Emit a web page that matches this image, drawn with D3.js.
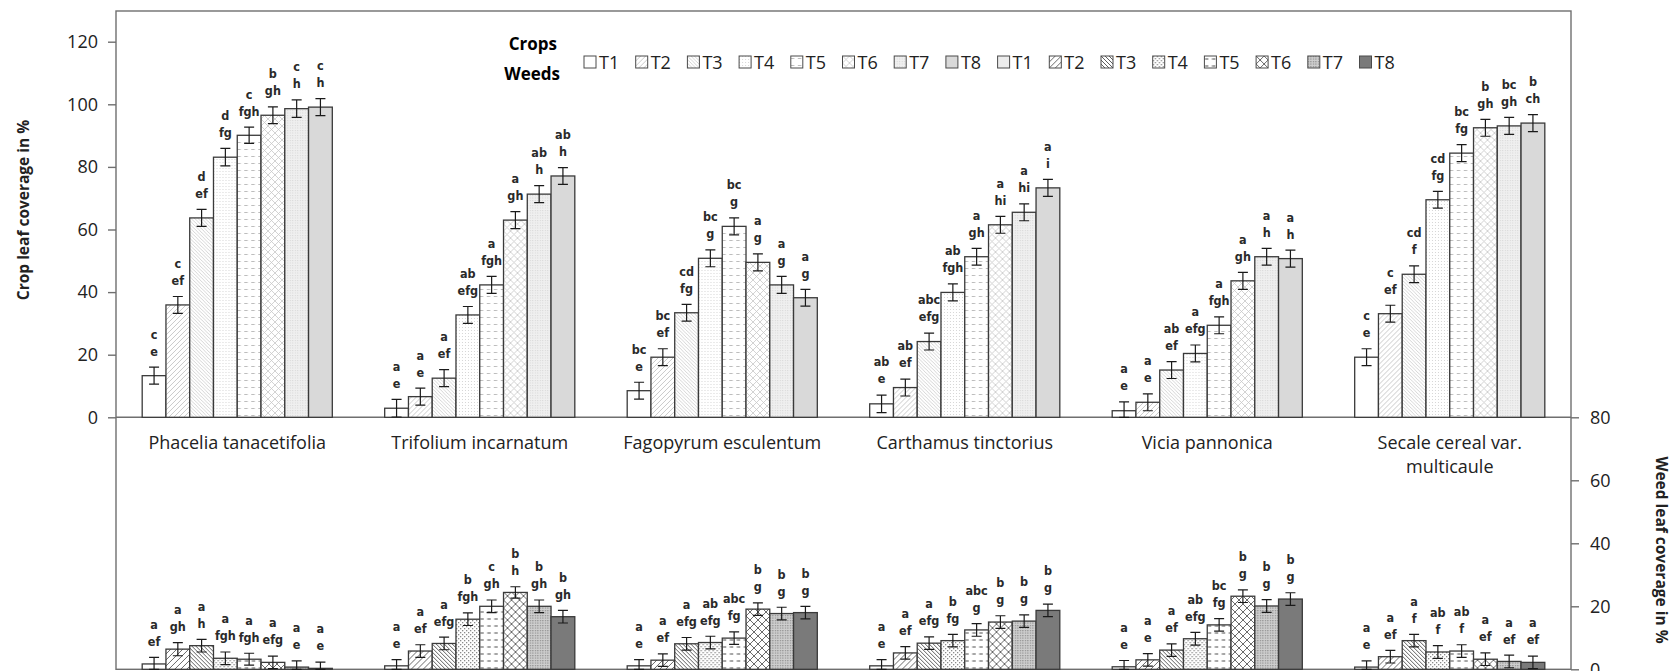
<!DOCTYPE html>
<html>
<head>
<meta charset="utf-8">
<script src="https://cdn.jsdelivr.net/npm/d3@7"></script>
<style>
  body { margin: 0; background: white; }
  svg { display: block; }
</style>
</head>
<body>
<script>
//chart data
const categories = ["Phacelia tanacetifolia", "Trifolium incarnatum", "Fagopyrum esculentum",
    "Carthamus tinctorius", "Vicia pannonica", "Secale cereal var. multicaule"];
const categoryLines = [["Phacelia tanacetifolia"], ["Trifolium incarnatum"], ["Fagopyrum esculentum"],
    ["Carthamus tinctorius"], ["Vicia pannonica"], ["Secale cereal var.", "multicaule"]];
const treatments = ["T1", "T2", "T3", "T4", "T5", "T6", "T7", "T8"];

const cropTicks = [0, 20, 40, 60, 80, 100, 120];
const weedTicks = [0, 20, 40, 60, 80];

//crop leaf coverage (%) per category, T1..T8
const cropMean = [
    [13.3, 35.9, 63.7, 83.1, 90.1, 96.5, 98.6, 99.1],
    [2.9, 6.6, 12.5, 32.7, 42.3, 63.0, 71.3, 77.1],
    [8.5, 19.2, 33.4, 50.8, 61.0, 49.5, 42.3, 38.2],
    [4.3, 9.5, 24.2, 39.9, 51.3, 61.5, 65.5, 73.3],
    [2.1, 4.8, 15.1, 20.4, 29.4, 43.6, 51.3, 50.7],
    [19.2, 33.1, 45.7, 69.5, 84.4, 92.5, 93.1, 94.0]
];
const cropErr = [
    [2.7, 2.7, 2.7, 2.8, 2.6, 2.7, 2.8, 2.7],
    [2.8, 2.7, 2.7, 2.7, 2.7, 2.7, 2.7, 2.7],
    [2.7, 2.7, 2.7, 2.7, 2.7, 2.7, 2.7, 2.7],
    [2.8, 2.7, 2.7, 2.7, 2.7, 2.7, 2.7, 2.7],
    [2.8, 2.7, 2.7, 2.7, 2.7, 2.7, 2.7, 2.7],
    [2.7, 2.7, 2.7, 2.7, 2.7, 2.7, 2.7, 2.7]
];
const cropLetters = [
    ["c/e", "c/ef", "d/ef", "d/fg", "c/fgh", "b/gh", "c/h", "c/h"],
    ["a/e", "a/e", "a/ef", "ab/efg", "a/fgh", "a/gh", "ab/h", "ab/h"],
    ["bc/e", "bc/ef", "cd/fg", "bc/g", "bc/g", "a/g", "a/g", "a/g"],
    ["ab/e", "ab/ef", "abc/efg", "ab/fgh", "a/gh", "a/hi", "a/hi", "a/i"],
    ["a/e", "a/e", "ab/ef", "a/efg", "a/fgh", "a/gh", "a/h", "a/h"],
    ["c/e", "c/ef", "cd/f", "cd/fg", "bc/fg", "b/gh", "bc/gh", "b/ch"]
];

//weed leaf coverage (%) per category, T1..T8
const weedMean = [
    [1.7, 6.4, 7.5, 3.5, 3.2, 2.2, 0.7, 0.3],
    [1.1, 5.8, 8.2, 15.9, 20.0, 24.4, 20.0, 16.7],
    [1.1, 2.9, 8.1, 8.5, 9.9, 19.1, 17.7, 18.0],
    [1.1, 5.2, 8.3, 9.1, 12.5, 15.0, 15.3, 18.7],
    [0.8, 3.0, 6.1, 9.7, 14.1, 23.2, 20.1, 22.3],
    [0.7, 4.0, 9.1, 5.5, 5.8, 3.2, 2.5, 2.2]
];
const weedErr = [
    [2.1, 2.1, 2.0, 2.0, 1.9, 2.0, 2.0, 2.0],
    [2.0, 2.0, 2.0, 2.0, 2.0, 1.8, 2.0, 2.0],
    [2.0, 2.0, 2.0, 2.0, 2.0, 2.0, 2.0, 2.0],
    [2.0, 2.0, 2.0, 2.0, 2.0, 2.0, 2.0, 2.0],
    [2.0, 2.0, 2.0, 2.0, 2.0, 2.0, 2.0, 2.0],
    [2.0, 2.0, 2.0, 2.0, 2.0, 2.0, 2.0, 2.0]
];
const weedLetters = [
    ["a/ef", "a/gh", "a/h", "a/fgh", "a/fgh", "a/efg", "a/e", "a/e"],
    ["a/e", "a/ef", "a/efg", "b/fgh", "c/gh", "b/h", "b/gh", "b/gh"],
    ["a/e", "a/ef", "a/efg", "ab/efg", "abc/fg", "b/g", "b/g", "b/g"],
    ["a/e", "a/ef", "a/efg", "b/fg", "abc/g", "b/g", "b/g", "b/g"],
    ["a/e", "a/e", "a/ef", "ab/efg", "bc/fg", "b/g", "b/g", "b/g"],
    ["a/e", "a/ef", "a/f", "ab/f", "ab/f", "a/ef", "a/ef", "a/ef"]
];

//layout
const width = 1676, height = 671;
const plotLeft = 116, plotRight = 1571, plotTop = 11;
const cropZeroY = 417.3, cropTopY = 41.7;
const weedZeroY = 669.3;
const frameColor = "#6f6f6f";
const barStroke = "#3a3a3a";
const font = "'Open Sans', 'Noto Sans', sans-serif";
const letterFont = "'DejaVu Sans Condensed', 'Liberation Sans Narrow', sans-serif";

const svg = d3.select("body")
    .append("svg")
    .attr("width", width)
    .attr("height", height);

//fill patterns for both series
const defs = svg.append("defs");

function linePattern(id, size, path, color, sw, bg) {
    const p = defs.append("pattern")
        .attr("id", id)
        .attr("patternUnits", "userSpaceOnUse")
        .attr("width", size)
        .attr("height", size);
    p.append("rect").attr("width", size).attr("height", size).attr("fill", bg);
    p.append("path").attr("d", path).attr("stroke", color).attr("stroke-width", sw).attr("fill", "none");
}
function dotPattern(id, size, r, color, bg, checker) {
    const p = defs.append("pattern")
        .attr("id", id)
        .attr("patternUnits", "userSpaceOnUse")
        .attr("width", size)
        .attr("height", size);
    p.append("rect").attr("width", size).attr("height", size).attr("fill", bg);
    p.append("rect").attr("x", 0).attr("y", 0).attr("width", r).attr("height", r).attr("fill", color);
    if (checker) {
        p.append("rect").attr("x", size / 2).attr("y", size / 2).attr("width", r).attr("height", r).attr("fill", color);
    }
}
function slash(s) { return "M0," + s + " L" + s + ",0 M-1,1 L1,-1 M" + (s - 1) + "," + (s + 1) + " L" + (s + 1) + "," + (s - 1); }
function backslash(s) { return "M0,0 L" + s + "," + s + " M-1," + (s - 1) + " L1," + (s + 1) + " M" + (s - 1) + ",-1 L" + (s + 1) + ",1"; }

//crop patterns (light)
linePattern("c2", 5, slash(5), "#c4c4c4", 0.9, "white");
linePattern("c3", 3.5, backslash(3.5), "#c9c9c9", 0.8, "white");
dotPattern("c4", 3, 1, "#d6d6d6", "white", false);
linePattern("c5", 7, "M0,2.5 L3.5,2.5", "#bdbdbd", 1, "white");
linePattern("c6", 7, slash(7) + " " + backslash(7), "#c6c6c6", 0.8, "white");
dotPattern("c7", 2.5, 1, "#d4d4d4", "#f0f0f0", false);

//weed patterns (darker)
linePattern("w2", 6, slash(6), "#6a6a6a", 1, "white");
linePattern("w3", 4, backslash(4), "#5e5e5e", 1, "white");
dotPattern("w4", 4, 1.3, "#8a8a8a", "white", true);
linePattern("w5", 7, "M0.5,3 L4,3", "#6a6a6a", 1.2, "white");
linePattern("w6", 8, slash(8) + " " + backslash(8), "#6a6a6a", 1, "white");
dotPattern("w7", 2.5, 1.2, "#8a8a8a", "#cfcfcf", false);

const cropFills = ["white", "url(#c2)", "url(#c3)", "url(#c4)", "url(#c5)", "url(#c6)", "url(#c7)", "#d9d9d9"];
const weedFills = ["white", "url(#w2)", "url(#w3)", "url(#w4)", "url(#w5)", "url(#w6)", "url(#w7)", "#7a7a7a"];
const weedLegendFills = ["#ececec", "url(#w2)", "url(#w3)", "url(#w4)", "url(#w5)", "url(#w6)", "url(#w7)", "#7a7a7a"];

//scales
const x0 = d3.scaleBand()
    .domain(categories)
    .range([plotLeft, plotRight])
    .paddingInner(0.216)
    .paddingOuter(0.108);
const x1 = d3.scaleBand()
    .domain(treatments)
    .range([0, x0.bandwidth()]);
const yCrop = d3.scaleLinear().domain([0, 120]).range([cropZeroY, cropTopY]);
const yWeed = d3.scaleLinear().domain([0, 80]).range([weedZeroY, cropZeroY]);

//frame
svg.append("rect")
    .attr("x", plotLeft)
    .attr("y", plotTop)
    .attr("width", plotRight - plotLeft)
    .attr("height", weedZeroY - plotTop)
    .attr("fill", "none")
    .attr("stroke", frameColor)
    .attr("stroke-width", 1.4);

//left axis (crops)
const leftAxis = svg.append("g")
    .attr("transform", "translate(" + plotLeft + ",0)")
    .call(d3.axisLeft(yCrop).tickValues(cropTicks).tickSize(8).tickPadding(10));
leftAxis.select(".domain").remove();

//right axis (weeds)
const rightAxis = svg.append("g")
    .attr("transform", "translate(" + plotRight + ",0)")
    .call(d3.axisRight(yWeed).tickValues(weedTicks).tickSize(8).tickPadding(11));
rightAxis.select(".domain").remove();

svg.selectAll(".tick line")
    .attr("stroke", frameColor)
    .attr("stroke-width", 1.4);
svg.selectAll(".tick text")
    .style("font-family", font)
    .style("font-size", "18px")
    .attr("fill", "#222");

//baseline of the crop bars
svg.append("line")
    .attr("x1", plotLeft)
    .attr("x2", plotRight)
    .attr("y1", cropZeroY)
    .attr("y2", cropZeroY)
    .attr("stroke", frameColor)
    .attr("stroke-width", 1.4);

//flatten data into one list per series
function flatten(means, errs, letters, yScale) {
    const out = [];
    categories.forEach(function (c, i) {
        treatments.forEach(function (t, j) {
            out.push({ cat: c, t: t, j: j, v: means[i][j], e: errs[i][j], lab: letters[i][j].split("/"), y: yScale });
        });
    });
    return out;
}
const cropData = flatten(cropMean, cropErr, cropLetters, yCrop);
const weedData = flatten(weedMean, weedErr, weedLetters, yWeed);

function drawSeries(data, fills, cls) {
    const g = svg.selectAll("." + cls)
        .data(data)
        .enter()
        .append("g")
        .attr("class", cls)
        .attr("transform", function (d) { return "translate(" + (x0(d.cat) + x1(d.t)) + ",0)"; });

    g.append("rect")
        .attr("x", 0)
        .attr("y", function (d) { return d.y(d.v); })
        .attr("width", x1.bandwidth())
        .attr("height", function (d) { return d.y(0) - d.y(d.v); })
        .attr("fill", function (d) { return fills[d.j]; })
        .attr("stroke", barStroke)
        .attr("stroke-width", 1.3);

    const cx = x1.bandwidth() / 2;
    //error bars
    g.append("path")
        .attr("d", function (d) {
            const lo = d.y(Math.max(0, d.v - d.e)), hi = d.y(d.v + d.e);
            return "M" + cx + "," + lo + " V" + hi +
                " M" + (cx - 5) + "," + hi + " H" + (cx + 5) +
                " M" + (cx - 5) + "," + lo + " H" + (cx + 5);
        })
        .attr("stroke", "#1a1a1a")
        .attr("stroke-width", 1.2)
        .attr("fill", "none");

    //significance letters
    g.each(function (d) {
        const top = d.y(d.v + d.e);
        const sel = d3.select(this);
        sel.append("text")
            .attr("x", cx)
            .attr("y", top - 33)
            .attr("dy", "0.35em")
            .text(d.lab[0]);
        sel.append("text")
            .attr("x", cx)
            .attr("y", top - 16)
            .attr("dy", "0.35em")
            .text(d.lab[1]);
    });
    g.selectAll("text")
        .attr("text-anchor", "middle")
        .style("font-family", letterFont)
        .style("font-weight", "bold")
        .style("font-size", "12.5px")
        .attr("fill", "#2a2a2a");
}
drawSeries(cropData, cropFills, "cropBar");
drawSeries(weedData, weedFills, "weedBar");

//category names under the crop bars
const catLabels = svg.selectAll(".catLabel")
    .data(categories)
    .enter()
    .append("text")
    .attr("class", "catLabel")
    .attr("x", function (d) { return x0(d) + x0.bandwidth() / 2; })
    .attr("y", 449)
    .attr("text-anchor", "middle")
    .style("font-family", font)
    .style("font-size", "18px")
    .attr("fill", "#222");
catLabels.each(function (d, i) {
    const t = d3.select(this);
    categoryLines[i].forEach(function (line, k) {
        t.append("tspan")
            .attr("x", x0(d) + x0.bandwidth() / 2)
            .attr("dy", k == 0 ? 0 : 24)
            .text(line);
    });
});

//axis titles
svg.append("text")
    .attr("transform", "translate(29,210) rotate(-90)")
    .attr("text-anchor", "middle")
    .style("font-family", font)
    .style("font-size", "15.5px")
    .style("font-weight", "bold")
    .attr("fill", "#222")
    .text("Crop leaf coverage in %");

svg.append("text")
    .attr("transform", "translate(1656,550) rotate(90)")
    .attr("text-anchor", "middle")
    .style("font-family", font)
    .style("font-size", "15.5px")
    .style("font-weight", "bold")
    .attr("fill", "#222")
    .text("Weed leaf coverage in %");

//legend
const legend = svg.append("g");
legend.append("text")
    .attr("x", 557)
    .attr("y", 50)
    .attr("text-anchor", "end")
    .style("font-family", font)
    .style("font-size", "17px")
    .style("font-weight", "bold")
    .text("Crops");
legend.append("text")
    .attr("x", 560)
    .attr("y", 80)
    .attr("text-anchor", "end")
    .style("font-family", font)
    .style("font-size", "17px")
    .style("font-weight", "bold")
    .text("Weeds");

const legendItems = treatments.map(function (t, j) { return { t: t, fill: cropFills[j] }; })
    .concat(treatments.map(function (t, j) { return { t: t, fill: weedLegendFills[j] }; }));
const legendX = d3.scaleLinear().domain([0, 15]).range([584, 1359.5]);

const li = legend.selectAll(".legItem")
    .data(legendItems)
    .enter()
    .append("g")
    .attr("class", "legItem")
    .attr("transform", function (d, i) { return "translate(" + legendX(i) + ",56)"; });
li.append("rect")
    .attr("width", 12)
    .attr("height", 12)
    .attr("fill", function (d) { return d.fill; })
    .attr("stroke", "#4a4a4a")
    .attr("stroke-width", 1);
li.append("text")
    .attr("x", 15)
    .attr("y", 12.5)
    .style("font-family", font)
    .style("font-size", "18px")
    .attr("fill", "#222")
    .text(function (d) { return d.t; });
</script>
</body>
</html>
